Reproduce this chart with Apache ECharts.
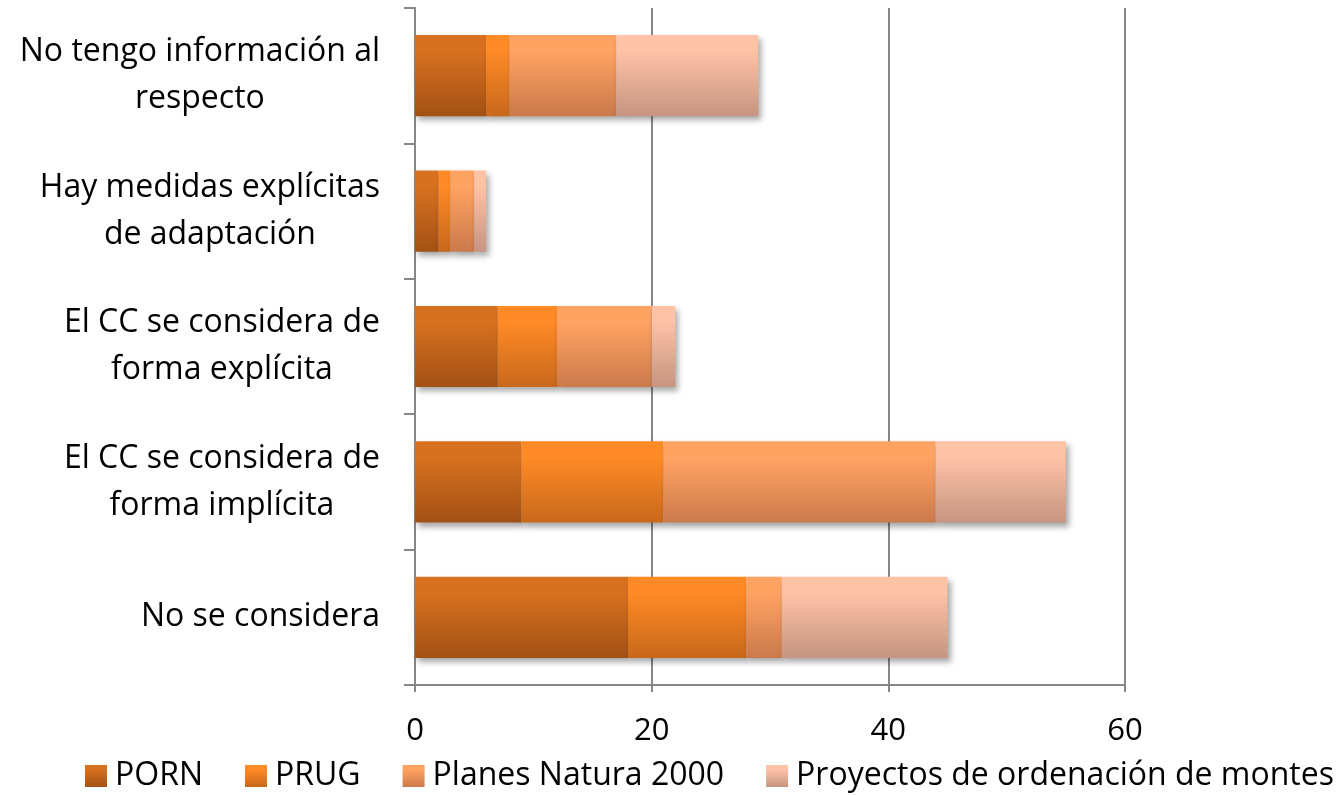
<!DOCTYPE html>
<html>
<head>
<meta charset="utf-8">
<script src="https://cdn.jsdelivr.net/npm/echarts@6/dist/echarts.min.js"></script>
<style>
  html, body { margin: 0; padding: 0; background: #fff; }
  #chart { width: 1340px; height: 795px; }
</style>
</head>
<body>
<div id="chart"></div>
<script>
// Categories, top to bottom
const categories = [
  'No tengo información al\nrespecto',
  'Hay medidas explícitas\nde adaptación',
  'El CC se considera de\nforma explícita',
  'El CC se considera de\nforma implícita',
  'No se considera'
];
const seriesNames = ['PORN', 'PRUG', 'Planes Natura 2000', 'Proyectos de ordenación de montes'];
const porn      = [6, 2, 7, 9, 18];
const prug      = [2, 1, 5, 12, 10];
const natura    = [9, 2, 8, 23, 3];
const proyectos = [12, 1, 2, 11, 14];
const xTicks = [0, 20, 40, 60];

const FONT = 'Open Sans';
const gradients = [
  ['#d8711f', '#a25114'],
  ['#ff8a26', '#c8681b'],
  ['#ffa363', '#cb7a4b'],
  ['#fec2a6', '#c69480']
];

function grad(c) {
  return new echarts.graphic.LinearGradient(0, 0, 0, 1, [
    { offset: 0, color: c[0] },
    { offset: 0.2, color: c[0] },
    { offset: 1, color: c[1] }
  ]);
}

const values = [porn, prug, natura, proyectos];
const series = seriesNames.map((name, i) => ({
  name: name,
  type: 'bar',
  stack: 'total',
  barWidth: '60%',
  data: values[i],
  itemStyle: {
    color: grad(gradients[i]),
    shadowColor: 'rgba(0,0,0,0.35)',
    shadowBlur: 6,
    shadowOffsetX: 3,
    shadowOffsetY: 4
  },
  emphasis: { disabled: true }
}));

const chart = echarts.init(document.getElementById('chart'), null, { renderer: 'canvas' });
chart.setOption({
  animation: false,
  backgroundColor: '#ffffff',
  textStyle: { fontFamily: FONT },
  grid: { left: 415, right: 215, top: 8, bottom: 110, containLabel: false },
  legend: {
    bottom: -2,
    left: 80,
    icon: 'rect',
    itemWidth: 22,
    itemHeight: 22,
    itemGap: 42,
    textStyle: { fontFamily: FONT, fontSize: 32, color: '#000', padding: [0, 0, 0, 3] },
    data: seriesNames.map((n, i) => ({ name: n, itemStyle: { color: grad(gradients[i]) } }))
  },
  xAxis: {
    type: 'value',
    min: 0,
    max: 60,
    interval: 20,
    axisLine: { show: true, lineStyle: { color: '#878787', width: 2 } },
    axisTick: { show: true, length: 7, lineStyle: { color: '#878787', width: 2 } },
    splitLine: { show: true, lineStyle: { color: '#878787', width: 2 } },
    axisLabel: {
      fontFamily: FONT, fontSize: 31, color: '#000', margin: 31,
      formatter: v => xTicks.includes(v) ? String(v) : ''
    }
  },
  yAxis: {
    type: 'category',
    inverse: true,
    data: categories,
    axisLine: { show: true, lineStyle: { color: '#878787', width: 2 } },
    axisTick: { show: true, length: 11, lineStyle: { color: '#878787', width: 2 } },
    axisLabel: {
      margin: 35,
      align: 'right',
      formatter: v => v.split('\n').map(s => '{c|' + s + '}').join('\n'),
      rich: {
        c: { align: 'center', fontFamily: FONT, fontSize: 32, color: '#000', lineHeight: 47 }
      }
    }
  },
  series: series
});
</script>
</body>
</html>
